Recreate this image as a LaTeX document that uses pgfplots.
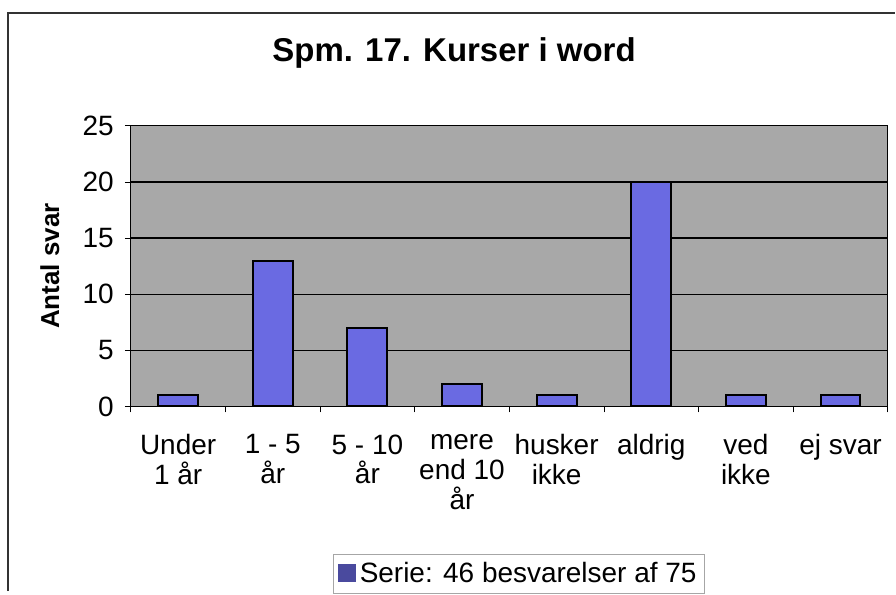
\documentclass[border=0pt]{standalone}
\usepackage{fontspec}
\setmainfont{Liberation Sans}
\usepackage{pgfplots}
\pgfplotsset{compat=1.18}
\definecolor{barblue}{RGB}{106,106,226}
\definecolor{plotgray}{RGB}{168,168,168}

\begin{document}
\begin{tikzpicture}
\path (0,0) rectangle (448pt,296.5pt);
\begin{axis}[
  at={(65.5pt,93pt)}, anchor=south west,
  scale only axis, width=379pt, height=140.5pt,
  axis background/.style={fill=plotgray},
  axis line style={black, line width=0.6pt},
  ymin=0, ymax=25, ytick={0,5,...,25},
  xmin=-0.5, xmax=7.5,
  xtick={0,...,7},
  xticklabels={Under\\1 år, 1 - 5\\år, 5 - 10\\år, mere\\end 10\\år, husker\\ikke, aldrig, ved\\ikke, ej svar},
  major x tick style={draw=none},
  minor xtick={-0.5,0.5,...,7.5},
  minor x tick style={black, line width=0.4pt},
  minor tick length=3pt,
  tick align=outside, major tick length=3pt,
  tick style={black, line width=0.4pt},
  xtick pos=bottom, ytick pos=left,
  ymajorgrids, grid style={black, line width=0.6pt},
  /pgf/number format/assume math mode=true,
  ticklabel style={font=\fontsize{14}{15}\selectfont},
  xticklabel style={align=center, anchor=north, yshift=-7.5pt},
  yticklabel style={xshift=-2pt},
  title={\bfseries Spm. 17. Kurser i word},
  title style={font=\fontsize{16.5}{18}\selectfont, at={(axis description cs:0.427,1.217)}, anchor=center},
  ylabel={\bfseries Antal svar},
  ylabel style={font=\fontsize{13}{15}\selectfont, at={(axis description cs:-0.107,0.5)}, anchor=center},
  ybar, bar width=20pt,
  legend style={at={(axis description cs:0.513,-0.598)}, anchor=center,
    draw=gray!70, line width=0.6pt, font=\fontsize{14}{15}\selectfont, inner sep=2pt},
  legend image code/.code={\fill[barblue!70!black] (0pt,-3.5pt) rectangle (8pt,4.5pt);},
]
\addplot[draw=black, line width=1pt, fill=barblue]
  coordinates {(0,1)(1,13)(2,7)(3,2)(4,1)(5,20)(6,1)(7,1)};
\legend{Serie: 46 besvarelser af 75}
\end{axis}
\draw[line width=1.2pt, black!80] (4pt,0.5pt) -- (4pt,290pt) -- (448pt,290pt);
\end{tikzpicture}
\end{document}
